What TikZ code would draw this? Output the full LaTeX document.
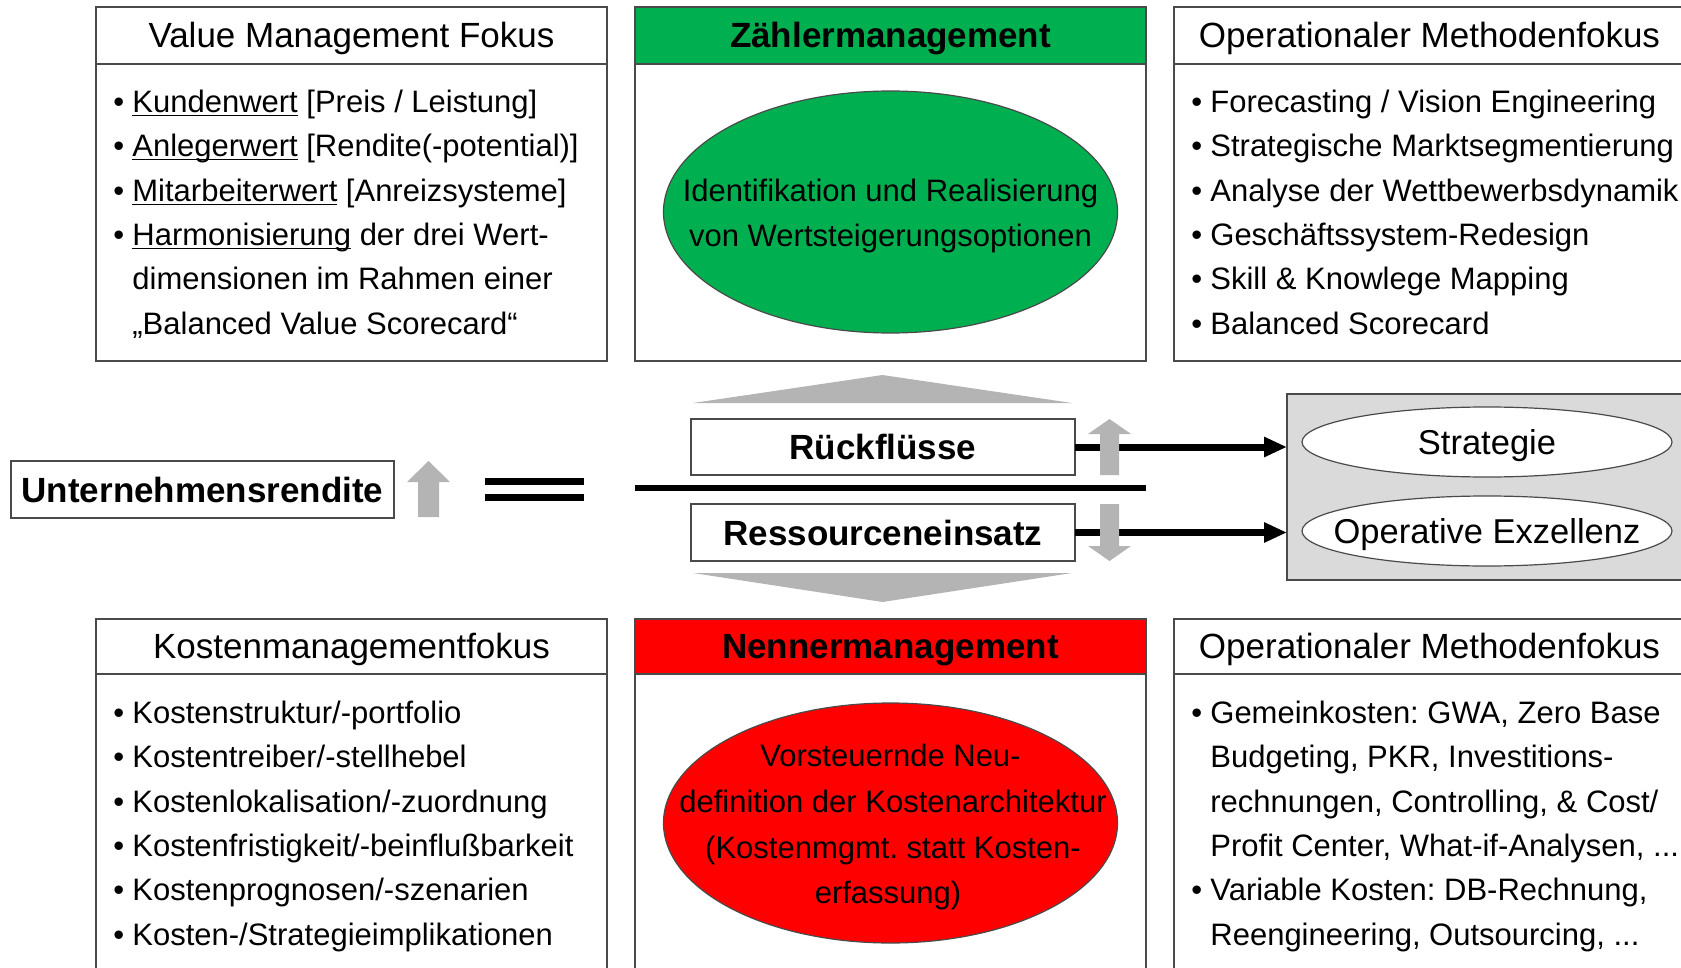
\documentclass[tikz,border=0pt]{standalone}
\usepackage{fontspec}
\setmainfont{Liberation Sans}
\usetikzlibrary{arrows.meta,shapes.geometric}
\frenchspacing

\definecolor{hdrgreen}{HTML}{00B050}
\definecolor{hdrred}{HTML}{FF0000}
\definecolor{arrowgrey}{HTML}{B4B4B4}
\definecolor{panelgrey}{HTML}{DADADA}
\definecolor{edge}{HTML}{4A4A4A}

% font sizes (1 unit = 0.5pt)
\newcommand\fsList{\fontsize{15.5pt}{22.2pt}\selectfont}
\newcommand\fsHead{\fontsize{17.5pt}{21pt}\selectfont}
\newcommand\fsBold{\fontsize{17.5pt}{21pt}\selectfont\bfseries}
\newcommand\fsOval{\fontsize{17.25pt}{21pt}\selectfont}

% bullet with fixed indent, and underline sitting close to the baseline
\newcommand\bul{\makebox[9.5pt][l]{\textbullet}}
\newcommand\ulw[1]{\setbox0\hbox{#1}\rlap{\rule[-1.7pt]{\wd0}{0.8pt}}\box0{}}

\tikzset{
  panel/.style={draw=edge, line width=0.75pt, fill=white, anchor=north west,
                minimum width=255.5pt, inner sep=0, outer sep=0},
  tag/.style={draw=edge, line width=0.75pt, fill=white, anchor=north west,
              inner sep=0, outer sep=0},
  li/.style={anchor=base west, inner sep=0, font=\fsList},
  hd/.style={anchor=base, inner sep=0, font=\fsHead},
  bhd/.style={anchor=base, inner sep=0, font=\fsBold},
  ovaltext/.style={anchor=base, inner sep=0, font=\fsList},
  oval/.style={ellipse, draw=edge, line width=0.6pt, inner sep=0},
  greyarrow/.style={fill=arrowgrey, draw=none},
  blackarrow/.style={line width=3.5pt, -{Triangle[length=11.5pt,width=9.5pt]}},
}

\begin{document}
\begin{tikzpicture}[x=0.5pt,y=-0.5pt]
\useasboundingbox (0,0) rectangle (1681,968);
\clip (0,0) rectangle (1681,968);

% ---------------- top row ----------------
\node[panel, minimum height=177pt] (vmbox) at (96,7) {};
\node[panel, minimum height=28.5pt] (vmhead) at (96,7) {};
\node[hd] (vmtitle) at (351.5,48) {Value Management Fokus};
\node[li] (vm1) at (113,113) {\bul\ulw{Kundenwert} [Preis / Leistung]};
\node[li] (vm2) at (113,157) {\bul\ulw{Anlegerwert} [Rendite(-potential)]};
\node[li] (vm3) at (113,202) {\bul\ulw{Mitarbeiterwert} [Anreizsysteme]};
\node[li] (vm4) at (113,246) {\bul\ulw{Harmonisierung} der drei Wert-};
\node[li] (vm5) at (132,290) {dimensionen im Rahmen einer};
\node[li] (vm6) at (132,335) {„Balanced Value Scorecard“};

\node[panel, minimum height=177pt] (zbox) at (635,7) {};
\node[panel, fill=hdrgreen, minimum height=28.5pt] (zhead) at (635,7) {};
\node[bhd] (ztitle) at (890.5,48) {Zählermanagement};
\node[oval, fill=hdrgreen, minimum width=227pt, minimum height=121pt] (zoval) at (890.5,212) {};
\node[ovaltext] (zo1) at (890.5,202) {Identifikation und Realisierung};
\node[ovaltext] (zo2) at (890.5,247) {von Wertsteigerungsoptionen};

\node[panel, minimum height=177pt] (ombox) at (1174,7) {};
\node[panel, minimum height=28.5pt] (omhead) at (1174,7) {};
\node[hd] (omtitle) at (1429.5,48) {Operationaler Methodenfokus};
\node[li] (om1) at (1191,113) {\bul Forecasting / Vision Engineering};
\node[li] (om2) at (1191,157) {\bul Strategische Marktsegmentierung};
\node[li] (om3) at (1191,202) {\bul Analyse der Wettbewerbsdynamik};
\node[li] (om4) at (1191,246) {\bul Geschäftssystem-Redesign};
\node[li] (om5) at (1191,290) {\bul Skill \& Knowlege Mapping};
\node[li] (om6) at (1191,335) {\bul Balanced Scorecard};

% ---------------- middle row ----------------
\node[tag, minimum width=191.5pt, minimum height=28.5pt] (ur) at (11,461) {};
\node[bhd] (urtext) at (202.5,502) {Unternehmensrendite};
\fill[greyarrow] (418,517) -- (418,482) -- (407,482) -- (428.5,461)
  -- (450,482) -- (439,482) -- (439,517) -- cycle;

\draw[line width=3.5pt] (485,481) -- (584,481);
\draw[line width=3.5pt] (485,497) -- (584,497);
\draw[line width=3.25pt] (635,488) -- (1146,488);

\fill[arrowgrey] (693,403) -- (882.5,375) -- (1072,403) -- cycle;
\fill[arrowgrey] (693,573) -- (882.5,602) -- (1072,573) -- cycle;

\node[tag, minimum width=192pt, minimum height=28pt] (rf) at (691,419) {};
\node[bhd] (rftext) at (883,459.5) {Rückflüsse};
\node[tag, minimum width=192pt, minimum height=28.5pt] (re) at (691,504) {};
\node[bhd] (retext) at (883,545) {Ressourceneinsatz};

\node[tag, fill=panelgrey, minimum width=205pt, minimum height=93pt] (gbox) at (1287,394) {};
\node[oval, fill=white, minimum width=185pt, minimum height=35pt] (strat) at (1487,442) {};
\node[anchor=base, inner sep=0, font=\fsOval] (strattext) at (1487,454) {Strategie};
\node[oval, fill=white, minimum width=185pt, minimum height=35pt] (opex) at (1487,531) {};
\node[anchor=base, inner sep=0, font=\fsOval] (opextext) at (1487,543) {Operative Exzellenz};

\draw[blackarrow] (rf.east) -- (rf.east -| gbox.west);
\draw[blackarrow] (re.east) -- (re.east -| gbox.west);

\fill[greyarrow] (1100,475) -- (1100,434) -- (1088,434) -- (1109.5,419)
  -- (1131,434) -- (1119,434) -- (1119,475) -- cycle;
\fill[greyarrow] (1100,504) -- (1100,546) -- (1088,546) -- (1109.5,561)
  -- (1131,546) -- (1119,546) -- (1119,504) -- cycle;

% ---------------- bottom row ----------------
\node[panel, minimum height=185pt] (kmbox) at (96,619) {};
\node[panel, minimum height=27.5pt] (kmhead) at (96,619) {};
\node[hd] (kmtitle) at (351.5,658) {Kostenmanagementfokus};
\node[li] (km1) at (113,723) {\bul Kostenstruktur/-portfolio};
\node[li] (km2) at (113,767) {\bul Kostentreiber/-stellhebel};
\node[li] (km3) at (113,812) {\bul Kostenlokalisation/-zuordnung};
\node[li] (km4) at (113,856) {\bul Kostenfristigkeit/-beinflußbarkeit};
\node[li] (km5) at (113,900) {\bul Kostenprognosen/-szenarien};
\node[li] (km6) at (113,945) {\bul Kosten-/Strategieimplikationen};

\node[panel, minimum height=185pt] (nbox) at (635,619) {};
\node[panel, fill=hdrred, minimum height=27.5pt] (nhead) at (635,619) {};
\node[bhd] (ntitle) at (890.5,658) {Nennermanagement};
\node[oval, fill=hdrred, minimum width=227pt, minimum height=120pt] (noval) at (890.5,823) {};
\node[ovaltext] (no1) at (890.5,766) {Vorsteuernde Neu-};
\node[ovaltext] (no2) at (893,812) {definition der Kostenarchitektur};
\node[ovaltext] (no3) at (893,858) {(Kostenmgmt. statt Kosten-};
\node[ovaltext] (no4) at (888,903) {erfassung)};

\node[panel, minimum height=185pt] (obox) at (1174,619) {};
\node[panel, minimum height=27.5pt] (ohead) at (1174,619) {};
\node[hd] (otitle) at (1429.5,658) {Operationaler Methodenfokus};
\node[li] (ob1) at (1191,723) {\bul Gemeinkosten: GWA, Zero Base};
\node[li] (ob2) at (1210,767) {Budgeting, PKR, Investitions-};
\node[li] (ob3) at (1210,812) {rechnungen, Controlling, \& Cost/};
\node[li] (ob4) at (1210,856) {Profit Center, What-if-Analysen, ...};
\node[li] (ob5) at (1191,900) {\bul Variable Kosten: DB-Rechnung,};
\node[li] (ob6) at (1210,945) {Reengineering, Outsourcing, ...};
\end{tikzpicture}
\end{document}
